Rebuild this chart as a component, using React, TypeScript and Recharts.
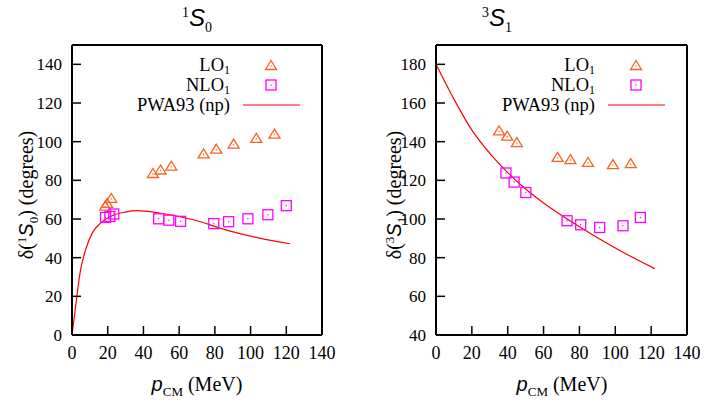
import React from 'react';
import { ComposedChart, Line, Scatter, XAxis, YAxis } from 'recharts';

// momentum ticks shared by both panels
const pTicks = [0, 20, 40, 60, 80, 100, 120, 140];
const s0Ticks = [0, 20, 40, 60, 80, 100, 120, 140];
const s1Ticks = [40, 60, 80, 100, 120, 140, 160, 180];

// 1S0 panel
const s0LoP = [18.6, 19.7, 22.0, 45.3, 49.6, 55.6, 73.7, 80.8, 90.5, 103.2, 113.4];
const s0LoD = [66.9, 68.3, 70.9, 83.8, 85.6, 87.6, 93.9, 96.4, 99.0, 102.0, 104.2];
const s0NloP = [18.8, 21.2, 23.4, 48.5, 54.2, 60.8, 79.4, 87.7, 98.5, 109.7, 120.0];
const s0NloD = [60.8, 61.3, 62.6, 60.1, 59.4, 58.8, 57.6, 58.6, 60.1, 62.2, 66.9];
const s0PwaP = [0, 2, 4.8, 7.6, 11.3, 16, 22.5, 30, 36, 49, 68, 86, 105, 122];
const s0PwaD = [0, 14.7, 33.7, 44, 52.7, 57.9, 61.7, 63.6, 64.3, 63.1, 59.6, 54.4, 50.1, 47.2];

// 3S1 panel
const s1LoP = [35.2, 39.7, 45.1, 67.8, 75.0, 84.8, 98.7, 108.6];
const s1LoD = [145.8, 143.1, 139.8, 132.1, 131.0, 129.5, 128.4, 128.9];
const s1NloP = [39.0, 43.6, 50.1, 73.1, 80.7, 91.3, 104.3, 114.0];
const s1NloD = [123.8, 119.1, 113.7, 99.1, 97.0, 95.6, 96.5, 100.8];
const s1PwaP = [0, 10, 20, 30, 40, 50, 60, 80, 100, 122];
const s1PwaD = [180, 162, 146, 134, 124, 115.5, 108.3, 96, 85, 74.3];

const LO_COLOR = '#ff6020';
const NLO_COLOR = '#ff00ff';
const PWA_COLOR = '#ff0000';
const serif = '"Liberation Serif", "Times New Roman", serif';

const zip = (xs: number[], ys: number[]) => xs.map((x, i) => ({ x, y: ys[i] }));

const Tri = ({ cx, cy }: any) => (
  <g>
    <polygon points={`${cx},${cy - 4.5} ${cx - 5.5},${cy + 4.5} ${cx + 5.5},${cy + 4.5}`} fill="none" stroke={LO_COLOR} strokeWidth={1.3} />
    <circle cx={cx} cy={cy + 1} r={0.7} fill={LO_COLOR} />
  </g>
);

const Sq = ({ cx, cy }: any) => (
  <g>
    <rect x={cx - 5} y={cy - 5} width={10} height={10} fill="none" stroke={NLO_COLOR} strokeWidth={1.3} />
    <circle cx={cx} cy={cy} r={0.7} fill={NLO_COLOR} />
  </g>
);

const BottomTick = ({ x, y, payload }: any) => (
  <g>
    <line x1={x} y1={y} x2={x} y2={y - 9} stroke="#000" strokeWidth={1.5} />
    <text x={x} y={y + 24} textAnchor="middle" fontSize={18} fontFamily={serif} fill="#000">{payload.value}</text>
  </g>
);
const TopTick = ({ x, y }: any) => <line x1={x} y1={y} x2={x} y2={y + 9} stroke="#000" strokeWidth={1.5} />;
const LeftTick = ({ x, y, payload }: any) => (
  <g>
    <line x1={x} y1={y} x2={x + 9} y2={y} stroke="#000" strokeWidth={1.5} />
    <text x={x - 10} y={y + 6} textAnchor="end" fontSize={17} fontFamily={serif} fill="#000">{payload.value}</text>
  </g>
);
const RightTick = ({ x, y }: any) => <line x1={x} y1={y} x2={x - 9} y2={y} stroke="#000" strokeWidth={1.5} />;

function Legend2({ left, top }: { left: number; top: number }) {
  const rows = [
    { label: 'LO', sub: '1', kind: 'lo' },
    { label: 'NLO', sub: '1', kind: 'nlo' },
    { label: 'PWA93 (np)', sub: '', kind: 'pwa' },
  ];
  return (
    <svg style={{ position: 'absolute', left, top, overflow: 'visible' }} width={180} height={60}>
      {rows.map((r, i) => {
        const cy = i * 20;
        return (
          <g key={r.kind}>
            <text x={100} y={cy + 6} textAnchor="end" fontSize={18.5} fontFamily={serif} fill="#000">
              {r.label}
              {r.sub && <tspan fontSize={12} dy={3}>{r.sub}</tspan>}
            </text>
            {r.kind === 'lo' && <Tri cx={141} cy={cy} />}
            {r.kind === 'nlo' && <Sq cx={141} cy={cy} />}
            {r.kind === 'pwa' && <line x1={113} y1={cy} x2={170} y2={cy} stroke={PWA_COLOR} strokeWidth={1.2} />}
          </g>
        );
      })}
    </svg>
  );
}

function Panel({ left, width, mLeft, mRight, yDomain, yTicks, lo, nlo, pwa }: any) {
  // axes take 1px each, margins are reduced by the same amount
  return (
    <div style={{ position: 'absolute', left, top: 0 }}>
      <ComposedChart width={width} height={402} margin={{ top: 44, right: mRight - 1, bottom: 66, left: mLeft - 1 }}>
        <XAxis type="number" dataKey="x" domain={[0, 140]} ticks={pTicks} interval={0} height={1}
          tickSize={0} tickMargin={0} tick={<BottomTick />} axisLine={{ stroke: '#000', strokeWidth: 2 }} />
        <XAxis xAxisId="top" orientation="top" type="number" dataKey="x" domain={[0, 140]} ticks={pTicks} interval={0} height={1}
          tickSize={0} tickMargin={0} tick={<TopTick />} axisLine={{ stroke: '#000', strokeWidth: 2 }} />
        <YAxis type="number" dataKey="y" domain={yDomain} ticks={yTicks} interval={0} width={1}
          tickSize={0} tickMargin={0} tick={<LeftTick />} axisLine={{ stroke: '#000', strokeWidth: 2 }} />
        <YAxis yAxisId="right" orientation="right" type="number" dataKey="y" domain={yDomain} ticks={yTicks} interval={0} width={1}
          tickSize={0} tickMargin={0} tick={<RightTick />} axisLine={{ stroke: '#000', strokeWidth: 2 }} />
        <Line data={pwa} dataKey="y" type="monotone" stroke={PWA_COLOR} strokeWidth={1.2} dot={false} isAnimationActive={false} />
        <Scatter data={lo} dataKey="y" shape={<Tri />} isAnimationActive={false} />
        <Scatter data={nlo} dataKey="y" shape={<Sq />} isAnimationActive={false} />
      </ComposedChart>
    </div>
  );
}

const italicS = { fontFamily: '"Liberation Sans", sans-serif', fontStyle: 'italic' as const };

export default function App() {
  return (
    <div style={{ position: 'absolute', left: 0, top: 0, width: 705, height: 402, background: '#fff', fontFamily: serif, color: '#000' }}>
      <Panel left={0} width={340} mLeft={72} mRight={18} yDomain={[0, 150]} yTicks={s0Ticks}
        lo={zip(s0LoP, s0LoD)} nlo={zip(s0NloP, s0NloD)} pwa={zip(s0PwaP, s0PwaD)} />
      <Panel left={360} width={345} mLeft={76} mRight={18} yDomain={[40, 190]} yTicks={s1Ticks}
        lo={zip(s1LoP, s1LoD)} nlo={zip(s1NloP, s1NloD)} pwa={zip(s1PwaP, s1PwaD)} />

      <Legend2 left={130} top={65} />
      <Legend2 left={495} top={65} />

      <div style={{ position: 'absolute', left: 197, top: 20, transform: 'translate(-50%,-50%)', fontSize: 24, whiteSpace: 'nowrap' }}>
        <sup style={{ fontSize: 14 }}>1</sup><span style={italicS}>S</span><sub style={{ fontSize: 14 }}>0</sub>
      </div>
      <div style={{ position: 'absolute', left: 497, top: 20, transform: 'translate(-50%,-50%)', fontSize: 24, whiteSpace: 'nowrap' }}>
        <sup style={{ fontSize: 14 }}>3</sup><span style={italicS}>S</span><sub style={{ fontSize: 14 }}>1</sub>
      </div>

      <div style={{ position: 'absolute', left: 28, top: 195, transform: 'translate(-50%,-50%) rotate(-90deg)', fontSize: 20, whiteSpace: 'nowrap' }}>
        δ(<sup style={{ fontSize: 13 }}>1</sup><span style={italicS}>S</span><sub style={{ fontSize: 13 }}>0</sub>) (degrees)
      </div>
      <div style={{ position: 'absolute', left: 396, top: 195, transform: 'translate(-50%,-50%) rotate(-90deg)', fontSize: 20, whiteSpace: 'nowrap' }}>
        δ(<sup style={{ fontSize: 13 }}>3</sup><span style={italicS}>S</span><sub style={{ fontSize: 13 }}>1</sub>) (degrees)
      </div>

      <div style={{ position: 'absolute', left: 197, top: 386, transform: 'translate(-50%,-50%)', fontSize: 20, whiteSpace: 'nowrap' }}>
        <span style={italicS}>p</span><sub style={{ fontSize: 13 }}>CM</sub> (MeV)
      </div>
      <div style={{ position: 'absolute', left: 562, top: 386, transform: 'translate(-50%,-50%)', fontSize: 20, whiteSpace: 'nowrap' }}>
        <span style={italicS}>p</span><sub style={{ fontSize: 13 }}>CM</sub> (MeV)
      </div>
    </div>
  );
}
